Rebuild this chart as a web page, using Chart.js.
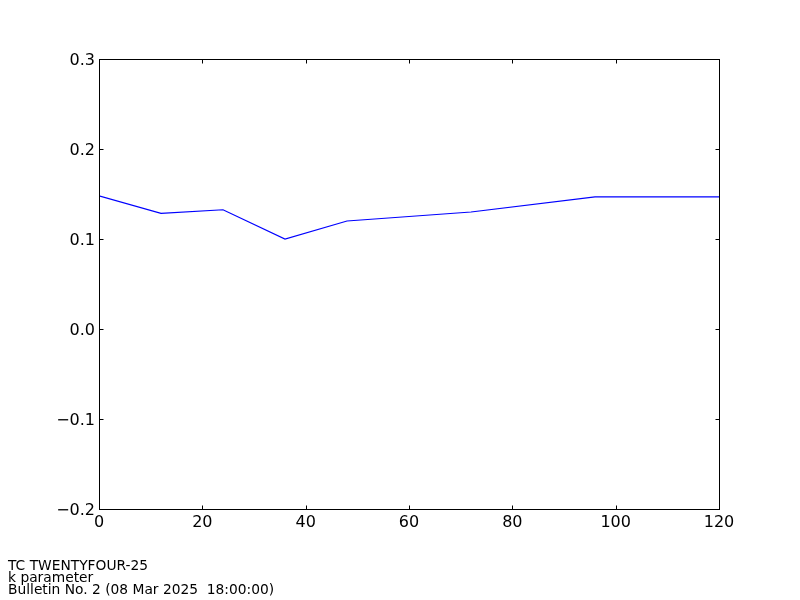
<!DOCTYPE html>
<html>
<head>
<meta charset="utf-8">
<script src="https://cdn.jsdelivr.net/npm/chart.js@4.4.0/dist/chart.umd.min.js"></script>
<style>
  body { margin: 0; background: #fff; }
  #wrap { position: relative; width: 800px; height: 600px; }
  #footer { position: absolute; left: 8px; top: 559px; font-family: 'DejaVu Sans', sans-serif; font-size: 13.8px; line-height: 12px; color: #000; white-space: pre; }
</style>
</head>
<body>
<div id="wrap">
  <canvas id="myChart" width="800" height="600"></canvas>
  <div id="footer">TC TWENTYFOUR-25
k parameter
Bulletin No. 2 (08 Mar 2025  18:00:00)</div>
</div>
<script>
// Forecast hours and k parameter values
const hours = [0, 12, 24, 36, 48, 72, 96, 120];
const kValues = [0.148, 0.1285, 0.1325, 0.1, 0.12, 0.13, 0.1467, 0.1467];
const xTicks = [0, 20, 40, 60, 80, 100, 120];
const yTicks = [-0.2, -0.1, 0.0, 0.1, 0.2, 0.3];

// matplotlib-style inward ticks on all four sides plus a frame
const frameTicks = {
  id: 'frameTicks',
  afterDraw(chart) {
    const { ctx, chartArea: a, scales } = chart;
    const L = a.left + 0.5, R = a.right + 0.5, T = a.top + 0.5, B = a.bottom + 0.5;
    ctx.save();
    ctx.strokeStyle = '#000';
    ctx.lineWidth = 1;
    ctx.strokeRect(L, T, R - L, B - T);
    const len = 4;
    ctx.beginPath();
    xTicks.forEach(v => {
      const x = Math.round(scales.x.getPixelForValue(v)) + 0.5;
      ctx.moveTo(x, B); ctx.lineTo(x, B - len);
      ctx.moveTo(x, T); ctx.lineTo(x, T + len);
    });
    yTicks.forEach(v => {
      const y = Math.round(scales.y.getPixelForValue(v)) + 0.5;
      ctx.moveTo(L, y); ctx.lineTo(L + len, y);
      ctx.moveTo(R, y); ctx.lineTo(R - len, y);
    });
    ctx.stroke();
    ctx.restore();
  }
};

const ctx = document.getElementById('myChart').getContext('2d');
const myChart = new Chart(ctx, {
  type: 'line',
  data: {
    datasets: [{
      data: hours.map((h, i) => ({ x: h, y: kValues[i] })),
      borderColor: '#0000ff',
      borderWidth: 1.2,
      pointRadius: 0,
      tension: 0,
      fill: false,
    }],
  },
  options: {
    responsive: false,
    animation: false,
    layout: { padding: { top: 59, right: 81, left: 0, bottom: 0 } },
    scales: {
      x: {
        type: 'linear',
        min: 0,
        max: 120,
        grid: { display: false, drawTicks: false },
        border: { display: false },
        afterFit(scale) { scale.height = 91; },
        afterBuildTicks(scale) { scale.ticks = xTicks.map(v => ({ value: v })); },
        ticks: {
          color: '#000',
          padding: 4,
          maxRotation: 0,
          font: { family: 'DejaVu Sans', size: 16 },
          callback: v => String(v),
        },
      },
      y: {
        min: -0.2,
        max: 0.3,
        grid: { display: false, drawTicks: false },
        border: { display: false },
        afterFit(scale) { scale.width = 99; },
        afterBuildTicks(scale) { scale.ticks = yTicks.map(v => ({ value: v })); },
        ticks: {
          color: '#000',
          padding: 4,
          labelOffset: 2,
          font: { family: 'DejaVu Sans', size: 16 },
          callback: v => (v < 0 ? '\u2212' : '') + Math.abs(v).toFixed(1),
        },
      },
    },
    plugins: {
      legend: { display: false },
      tooltip: { enabled: false },
    },
  },
  plugins: [frameTicks],
});
</script>
</body>
</html>
